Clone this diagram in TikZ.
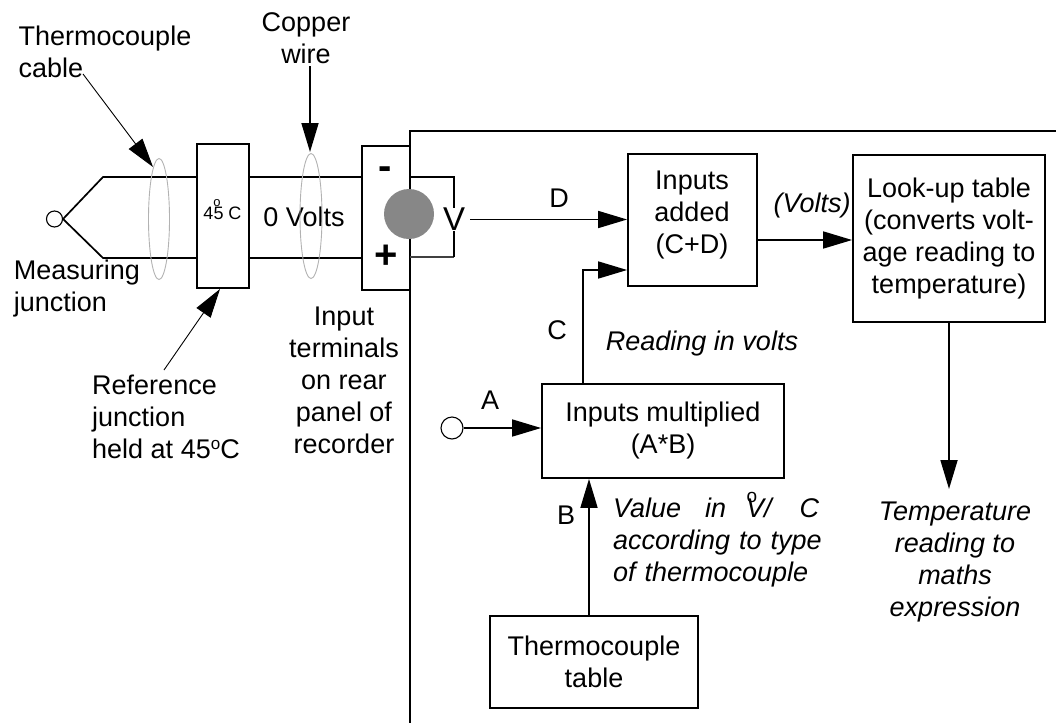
\documentclass[tikz,border=0pt]{standalone}
\usepackage{fontspec}
\setmainfont{Liberation Sans}
\usetikzlibrary{arrows.meta,shapes.geometric}
\tikzset{
  wire/.style={line width=1.7pt,draw=black},
  tip/.style={-{Triangle[length=29pt,width=17pt]}},
  thinarrow/.style={line width=0.9pt,tip},
  flow/.style={line width=1.7pt,tip},
  boxn/.style={draw=black,line width=1.8pt,fill=white,inner sep=0pt,align=center,font=\fontsize{27}{32}\selectfont},
  lab/.style={inner sep=0pt,align=center,font=\fontsize{27}{32}\selectfont},
  labl/.style={lab,align=left},
  ital/.style={lab,font=\fontsize{27}{32}\selectfont\itshape},
  loopring/.style={ellipse,draw=black!30,line width=0.9pt,inner sep=0pt},
  terminal/.style={circle,draw=black,line width=1.1pt,fill=white,inner sep=0pt}
}
\begin{document}
\begin{tikzpicture}[x=1pt,y=-1pt]
\useasboundingbox (0,0) rectangle (1056,723);
% instrument panel outline
\coordinate (pTR) at (1056,131);
\coordinate (pTL) at (410,131);
\coordinate (pB) at (410,723);
\draw[wire] (pTR) -- (pTL) -- (pB);
% left circuit
\node[terminal,minimum size=16pt] (mj) at (54.5,219) {};
\coordinate (t1) at (103,177);
\coordinate (t2) at (103,258);
\node[boxn,minimum width=52pt,minimum height=144pt] (ref) at (223,216) {};
\node[boxn,minimum width=48pt,minimum height=144pt] (term) at (386,218) {};
\draw[wire] (mj.east) -- (t1) -- (ref.west |- t1);
\draw[wire] (mj.east) -- (t2) -- (ref.west |- t2);
\draw[wire] (ref.east |- t1) -- (term.west |- t1);
\draw[wire] (ref.east |- t2) -- (term.west |- t2);
\node[inner sep=0pt,font=\fontsize{18}{18}\selectfont] (refT) at (222.5,213) {45 C};
\node[inner sep=0pt,font=\fontsize{13}{13}\selectfont] (refdeg) at (217,203.5) {o};
\node[lab] (zv) at (304,217) {0 Volts};
\node[loopring,minimum width=21pt,minimum height=121pt] (ring1) at (159,219) {};
\node[loopring,minimum width=22pt,minimum height=125pt] (ring2) at (311,216) {};
% terminal block
\node[inner sep=0pt,font=\fontsize{40}{40}\selectfont\bfseries] (minus) at (385.5,173) {-};
\node[inner sep=0pt,font=\fontsize{40}{40}\selectfont\bfseries] (plus) at (386.5,257) {+};
\node[circle,fill=black!47,minimum size=50pt,inner sep=0pt] (dot) at (409,214) {};
% voltmeter
\node[inner sep=0pt,font=\fontsize{33}{33}\selectfont] (vm) at (454,219.5) {V};
\coordinate (v1) at (410,177);
\coordinate (v2) at (410,257);
\draw[wire] (v1) -| (vm.north);
\draw[line width=1.1pt,black!75] (v2) -- (vm.south |- v2);
\draw[wire] (vm.south |- v2) -- (vm.south);
% right boxes
\node[boxn,minimum width=129pt,minimum height=132pt] (added) at (692.5,220) {};
\node[lab] (addedt) at (692,215) {Inputs\\added\\(C+D)};
\node[boxn,minimum width=192pt,minimum height=167pt] (lookup) at (949,238.5) {Look-up table\\(converts volt-\\age reading to\\temperature)};
\node[boxn,minimum width=242pt,minimum height=94pt] (mult) at (663,431) {Inputs multiplied\\(A*B)};
\node[boxn,minimum width=208pt,minimum height=92pt] (tctable) at (594,662) {Thermocouple\\table};
% connectors
\draw[flow] ([xshift=5pt]vm.east) -- (added.west |- vm.east);
\draw[flow] (added.east |- 0,240) -- (lookup.west |- 0,240);
\coordinate (cc) at (583,270);
\draw[flow] (mult.north -| cc) -- (cc) -- (added.west |- cc);
\node[terminal,minimum size=22pt] (a) at (452,428) {};
\draw[flow] (a) -- (mult.west |- a);
\draw[flow] (tctable.north -| 589,0) -- (mult.south -| 589,0);
\coordinate (tempend) at (949,489);
\draw[flow] (lookup.south) -- (tempend);
% annotation arrows
\node[labl] (tc) at (105,52) {Thermocouple\\cable};
\draw[thinarrow] (83,74) -- (153,167);
\node[lab] (cu) at (306,38) {Copper\\wire};
\draw[flow] (310,66) -- (310,152);
\node[labl] (mjl) at (77,289) {Measuring\\junction};
\node[labl] (rjl) at (166,417) {Reference\\junction\\held at 45\raisebox{9pt}{\fontsize{17}{17}\selectfont o}C};
\draw[thinarrow] (164,370) -- (220,289);
\node[lab] (itl) at (344,380) {Input\\terminals\\on rear\\panel of\\recorder};
% flow labels
\node[lab] (ld) at (559,198) {D};
\node[lab] (lc) at (557,330) {C};
\node[lab] (la) at (490,400) {A};
\node[lab] (lb) at (566,515) {B};
\node[ital] (lv) at (812,206) {(Volts)};
\node[ital] (lr) at (702,344) {Reading in volts};
\node[ital,align=left,text width=210pt] (lval) at (718,543) {Value\hspace{24pt}in\hspace{20pt}V/\hspace{28pt}C\\according to type\\of thermocouple};
\node[inner sep=0pt,font=\fontsize{19}{19}\selectfont] (ldeg) at (752,497) {o};
\node[ital] (lt) at (955,562) {Temperature\\reading to\\maths\\expression};
\end{tikzpicture}
\end{document}
